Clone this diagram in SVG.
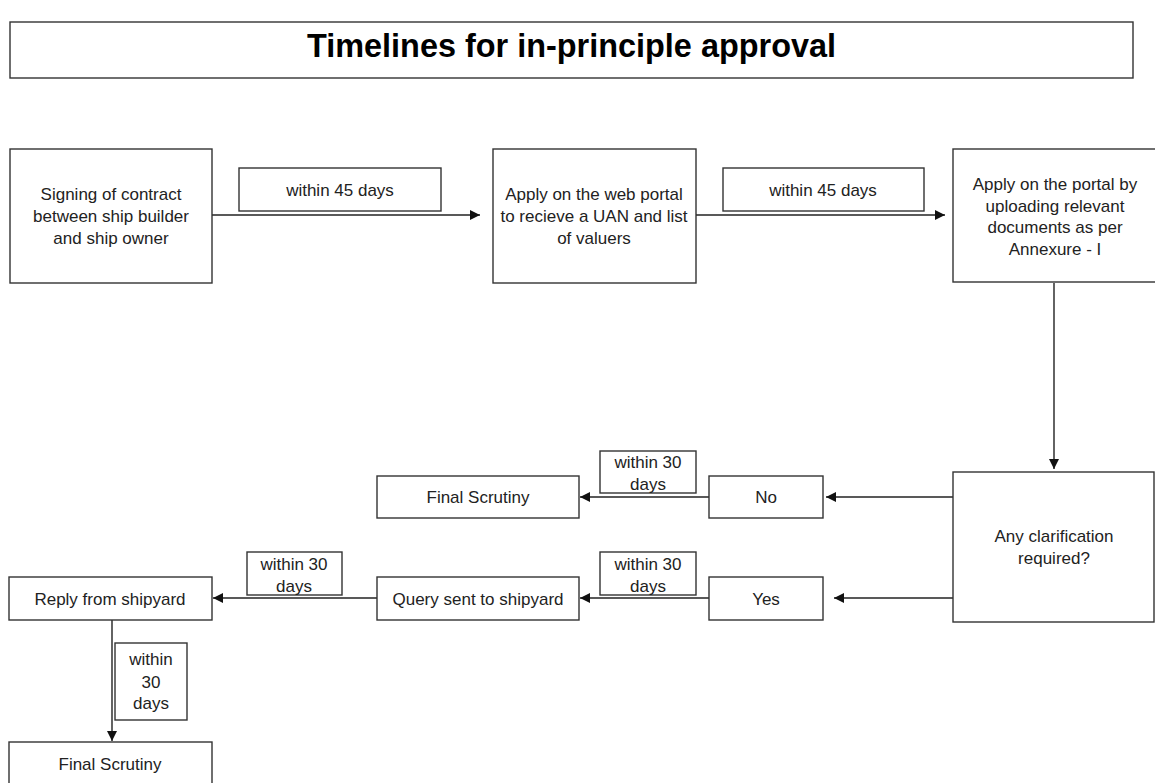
<svg xmlns="http://www.w3.org/2000/svg" width="1155" height="783" viewBox="0 0 1155 783">
<defs>
<marker id="ah" viewBox="0 0 10 10" refX="10" refY="5" markerWidth="10" markerHeight="10" markerUnits="userSpaceOnUse" orient="auto">
<path d="M0,0 L10,5 L0,10 z" fill="#111"/>
</marker>
<style>
.b{fill:#fff;stroke:#333;stroke-width:1.4}
.t{font-family:"Liberation Sans",Arial,sans-serif;font-size:17px;fill:#222;text-anchor:middle}
.c{fill:none;stroke:#222;stroke-width:1.4;marker-end:url(#ah)}
.title{font-family:"Liberation Sans",Arial,sans-serif;font-size:34px;font-weight:bold;fill:#000;text-anchor:middle}
</style>
</defs>
<rect width="1155" height="783" fill="#fff"/>
<g id="title">
<rect class="b" x="10" y="22" width="1123" height="56"/>
<text class="title" x="571.5" y="57" textLength="529" lengthAdjust="spacingAndGlyphs">Timelines for in-principle approval</text>
</g>
<g id="connectors">
<line class="c" x1="212" y1="215" x2="480" y2="215"/>
<line class="c" x1="696" y1="215" x2="945" y2="215"/>
<line class="c" x1="1054" y1="283" x2="1054" y2="469"/>
<line class="c" x1="953" y1="497" x2="826" y2="497"/>
<line class="c" x1="953" y1="598" x2="834" y2="598"/>
<line class="c" x1="709" y1="497" x2="580" y2="497"/>
<line class="c" x1="709" y1="598" x2="580" y2="598"/>
<line class="c" x1="377" y1="598" x2="213" y2="598"/>
<line class="c" x1="112" y1="620" x2="112" y2="741"/>
</g>
<g id="n1">
<rect class="b" x="10" y="149" width="202" height="134"/>
<text class="t" x="111" y="200">Signing of contract</text>
<text class="t" x="111" y="222">between ship builder</text>
<text class="t" x="111" y="244">and ship owner</text>
</g>
<g id="l1">
<rect class="b" x="239" y="168" width="202" height="43"/>
<text class="t" x="340" y="196">within 45 days</text>
</g>
<g id="n2">
<rect class="b" x="493" y="149" width="203" height="134"/>
<text class="t" x="594" y="200">Apply on the web portal</text>
<text class="t" x="594" y="222">to recieve a UAN and list</text>
<text class="t" x="594" y="244">of valuers</text>
</g>
<g id="l2">
<rect class="b" x="723" y="168" width="201" height="43"/>
<text class="t" x="823" y="196">within 45 days</text>
</g>
<g id="n3">
<rect class="b" x="953" y="149" width="205" height="133"/>
<text class="t" x="1055" y="190">Apply on the portal by</text>
<text class="t" x="1055" y="212">uploading relevant</text>
<text class="t" x="1055" y="233">documents as per</text>
<text class="t" x="1055" y="255">Annexure - I</text>
</g>
<g id="decision">
<rect class="b" x="953" y="472" width="201" height="150"/>
<text class="t" x="1054" y="542">Any clarification</text>
<text class="t" x="1054" y="564">required?</text>
</g>
<g id="no">
<rect class="b" x="709" y="476" width="114" height="42"/>
<text class="t" x="766" y="503">No</text>
</g>
<g id="yes">
<rect class="b" x="709" y="577" width="114" height="43"/>
<text class="t" x="766" y="605">Yes</text>
</g>
<g id="l3">
<rect class="b" x="600" y="451" width="96" height="42"/>
<text class="t" x="648" y="468">within 30</text>
<text class="t" x="648" y="490">days</text>
</g>
<g id="l4">
<rect class="b" x="600" y="552" width="96" height="43"/>
<text class="t" x="648" y="570">within 30</text>
<text class="t" x="648" y="592">days</text>
</g>
<g id="final1">
<rect class="b" x="377" y="476" width="202" height="42"/>
<text class="t" x="478" y="503">Final Scrutiny</text>
</g>
<g id="query">
<rect class="b" x="377" y="577" width="202" height="43"/>
<text class="t" x="478" y="605">Query sent to shipyard</text>
</g>
<g id="l5">
<rect class="b" x="247" y="552" width="95" height="43"/>
<text class="t" x="294" y="570">within 30</text>
<text class="t" x="294" y="592">days</text>
</g>
<g id="reply">
<rect class="b" x="9" y="577" width="203" height="43"/>
<text class="t" x="110" y="605">Reply from shipyard</text>
</g>
<g id="l6">
<rect class="b" x="115" y="643" width="72" height="77"/>
<text class="t" x="151" y="665">within</text>
<text class="t" x="151" y="688">30</text>
<text class="t" x="151" y="709">days</text>
</g>
<g id="final2">
<rect class="b" x="9" y="742" width="203" height="50"/>
<text class="t" x="110" y="770">Final Scrutiny</text>
</g>
</svg>
